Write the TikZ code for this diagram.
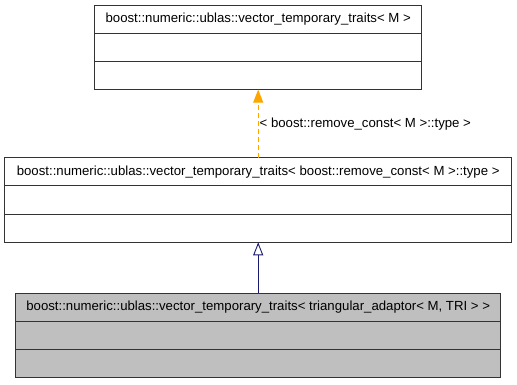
\documentclass[tikz,border=0pt]{standalone}
\usepackage{fontspec}
\setmainfont{Liberation Sans}
\usetikzlibrary{arrows.meta,positioning}
\definecolor{tmplorange}{RGB}{255,165,0}
\definecolor{inhblue}{RGB}{25,25,112}
\definecolor{curgray}{RGB}{191,191,191}

\begin{document}
\begin{tikzpicture}[
  x=1pt, y=1pt,
  font=\fontsize{13.2}{15}\selectfont,
  cls/.style={draw=black!80, line width=0.9pt, minimum height=28.2pt, inner sep=0pt, outer sep=0pt, align=center},
  tmpl/.style={-{Triangle[length=13pt, width=10pt]}, tmplorange, line width=0.9pt, dash pattern=on 5pt off 3pt},
  inh/.style={-{Triangle[open, length=13pt, width=10pt, fill=white]}, inhblue, line width=0.9pt}
]
\useasboundingbox (0,0) rectangle (517,-384);
% generic template class
\node[cls, minimum width=327pt, anchor=north] (gtitle) at (258.2,-5) {boost::numeric::ublas::vector\_temporary\_traits< M >};
\node[cls, minimum width=327pt, below=0pt of gtitle] (gattr) {};
\node[cls, minimum width=327pt, below=0pt of gattr] (gops) {};
% instantiation with remove_const
\node[cls, minimum width=507pt, anchor=north] (rtitle) at (258.2,-157.7) {boost::numeric::ublas::vector\_temporary\_traits< boost::remove\_const< M >::type >};
\node[cls, minimum width=507pt, below=0pt of rtitle] (rattr) {};
\node[cls, minimum width=507pt, below=0pt of rattr] (rops) {};
% triangular_adaptor specialisation
\node[cls, fill=curgray, minimum width=485pt, anchor=north] (ttitle) at (258.2,-293.3) {boost::numeric::ublas::vector\_temporary\_traits< triangular\_adaptor< M, TRI > >};
\node[cls, fill=curgray, minimum width=485pt, below=0pt of ttitle] (tattr) {};
\node[cls, fill=curgray, minimum width=485pt, below=0pt of tattr] (tops) {};
\draw[tmpl] (rtitle.north) -- (gops.south) node[midway, right, inner sep=1pt, text=black] (targ) {< boost::remove\_const< M >::type >};
\draw[inh] (ttitle.north) -- (rops.south);
\end{tikzpicture}
\end{document}
